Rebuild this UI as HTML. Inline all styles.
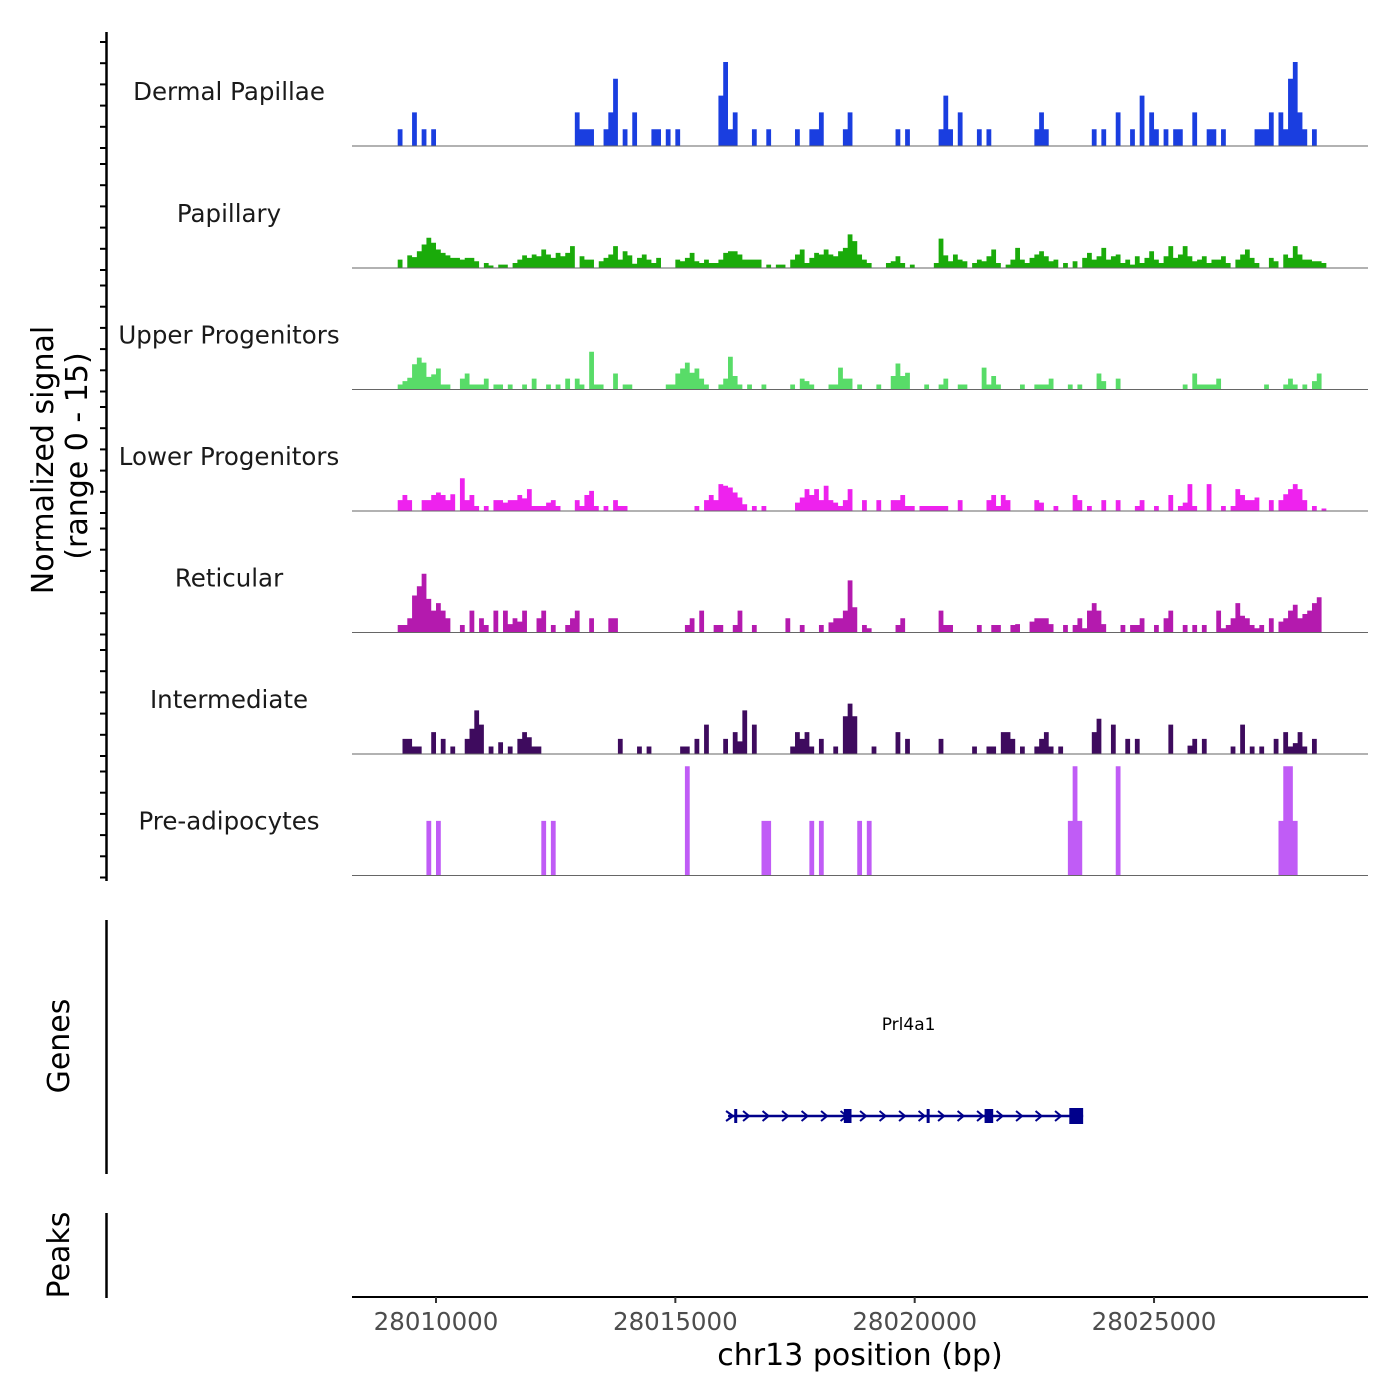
<!DOCTYPE html>
<html><head><meta charset="utf-8"><style>
html,body{margin:0;padding:0;background:#fff;}
svg{display:block;font-family:"DejaVu Sans","Liberation Sans",sans-serif;}
</style></head><body>
<svg id="chart" width="1400" height="1400" viewBox="0 0 1400 1400">
<g id="tracks"></g>
<g id="leftaxis"></g>
<text x="0" y="0" transform="translate(53,460) rotate(-90)" text-anchor="middle" font-size="30" fill="#000">Normalized signal</text>
<text x="0" y="0" transform="translate(87,456) rotate(-90)" text-anchor="middle" font-size="30" fill="#000">(range 0 - 15)</text>
<line x1="106.5" y1="920" x2="106.5" y2="1174" stroke="#000" stroke-width="2.5"/>
<text transform="translate(69,1046) rotate(-90)" text-anchor="middle" font-size="30">Genes</text>
<line x1="106.5" y1="1213" x2="106.5" y2="1298" stroke="#000" stroke-width="2.5"/>
<text transform="translate(69,1255) rotate(-90)" text-anchor="middle" font-size="30">Peaks</text>
<g id="genes"></g>
<g id="xaxis"></g>
<text x="860" y="1365" text-anchor="middle" font-size="30" fill="#000">chr13 position (bp)</text>
</svg>
<script>
const domain = [28008245, 28029470];
const binStart = 28009200;
const binSize = 100;
const nBins = 200;
const trackNames = ["Dermal Papillae","Papillary","Upper Progenitors","Lower Progenitors","Reticular","Intermediate","Pre-adipocytes"];
const trackColors = ["#1a3ee0","#1aab0a","#58dc68","#ee22ee","#b41aae","#3e0b5e","#c05cf6"];
const xTicks = [28010000, 28015000, 28020000, 28025000];
const xTickLabels = ["28010000","28015000","28020000","28025000"];

const dpBin = [0,3,5,7,37,38,39,40,43,44,45,47,49,53,54,56,58,67,68,69,70,74,77,83,86,87,88,93,94,104,106,113,114,115,117,121,123,133,134,135,145,147,150,153,155,157,158,160,162,163,166,169,170,172,179,180,181,182,184,185,186,187,188,189,191];
const dpVal = [2,4,2,2, 4,2,2,2, 2,4,8,2,4, 2,2,2,2, 6,10,2,4, 2,2, 2,2,2,4, 2,4, 2,2, 2,6,2,4, 2,2, 2,4,2, 2,2,4,2,6,4,2, 2,2,2,4, 2,2,2, 2,2,2,4, 4,2,8,10,4,2, 2];

const papVal = [1,0,1.5,1.3,2,2.8,3.6,3,2.2,1.8,
1.5,1.2,1.2,1,1.2,1.2,0.8,0,0.6,0.3,
0,0.4,0.4,0,0.6,1,1.5,1.2,1.6,1.4,
2.2,1.6,1.2,1.8,1.4,1.8,2.6,0,1.4,1,
1,0,0.8,1.2,1.6,2.6,1,2,1.5,0.5,
1.2,1.6,1,0.6,1.2,0,0,0,1,0.8,
1.2,1.8,0.8,0.6,1,0.6,0.6,1,1.8,2,
2,1.6,1,1,1,1,0,0.4,0,0.4,
0.4,0,1,1.6,2.2,0.6,1.2,1.8,1.6,2.2,
1.6,1.4,2,2.4,4,3.2,1.6,1,0.6,0,
0,0,0.6,0.8,1.4,0.6,0,0.4,0,0,
0,0,0.6,3.5,1.5,0.8,1.6,1,0.8,0,
0.6,1,0.8,1.4,2.2,0.6,0,0.4,1,2.4,
1,0.6,1.2,1.6,2,1.4,0.8,1,0,0.6,
0,0.8,0,1.2,1.8,1,1.4,2.4,1,1.4,
1.6,0.6,1,0.4,1.4,0.6,1.2,2,1,0.6,
1.4,2.6,1.2,1.6,2.6,1.4,0.8,1,1.4,0.6,
1,1,1.4,0.6,0,1,1.6,2.2,1.2,0.6,
0,0,1.2,0.8,0,1.6,1.2,2.6,1.6,1,
1,0.8,0.8,0.6,0,0,0,0,0,0];

const upBin = [0,1,2,3,4,5,6,7,8,9,10,13,14,15,16,17,18,20,21,23,26,28,31,33,35,37,38,40,41,42,45,47,48,56,57,58,59,60,61,62,63,64,67,68,69,70,71,73,76,82,84,85,86,90,91,92,93,94,96,100,103,104,105,106,110,113,114,117,118,122,123,124,125,130,133,134,135,136,140,142,146,147,150,164,166,167,168,169,170,171,181,185,186,187,189,191,192];
const upVal = [0.6,1.0,1.4,3.0,3.8,3.2,1.5,1.8,2.5,0.6,0.6,1.3,1.9,0.6,0.6,0.6,1.3,0.6,0.6,0.6,0.6,1.3,0.6,0.6,1.3,1.3,0.6,4.5,0.6,0.6,1.9,0.6,0.6,0.6,0.6,1.9,2.5,3.2,2.0,2.5,1.3,0.6,0.6,1.3,3.9,1.6,0.6,0.6,0.6,0.6,1.3,1.0,0.6,0.6,0.6,2.6,1.3,1.3,0.6,0.6,1.6,3.1,1.6,2.0,0.6,0.6,1.3,0.6,0.6,2.6,0.6,1.6,0.6,0.6,0.6,0.6,0.6,1.3,0.6,0.6,1.9,1.0,1.3,0.6,1.9,0.6,0.6,0.6,0.6,1.3,0.6,0.6,1.3,0.6,0.6,1.0,1.9];

const loBin = [0,1,2,5,6,7,8,9,10,11,13,14,15,16,18,20,21,22,23,24,25,26,27,28,29,30,31,32,33,37,38,39,40,41,43,45,46,47,62,64,65,66,67,68,69,70,71,72,74,76,83,84,85,86,87,88,89,90,91,92,93,94,97,100,103,104,105,106,107,109,110,111,112,113,114,117,123,124,125,126,127,133,134,137,141,142,144,147,150,154,155,158,161,163,164,165,166,169,172,174,175,176,177,178,179,182,184,185,186,187,188,189,191,193];
const loVal = [1.3,1.9,1.3,1.3,1.3,1.9,2.2,1.9,1.3,2.0,3.9,1.3,1.9,0.6,0.6,1.3,1.3,1.0,1.3,1.3,1.9,1.5,2.6,0.6,0.6,0.6,1.0,1.3,0.6,1.3,0.6,1.9,2.4,0.6,0.6,1.3,0.6,0.6,0.6,1.3,1.9,1.3,3.2,3.0,2.8,2.2,1.6,0.8,0.6,0.6,1.0,1.6,2.6,1.9,2.6,1.3,3.0,1.3,1.0,0.6,1.3,2.6,1.3,1.3,1.3,1.3,1.9,0.6,0.6,0.6,0.6,0.6,0.6,0.6,0.6,1.3,1.3,1.9,0.6,1.9,1.3,1.3,1.0,0.6,1.9,1.3,0.6,1.3,1.3,0.6,1.3,0.6,1.9,0.6,1.0,3.2,0.6,3.2,0.6,0.6,2.6,1.9,1.3,1.3,1.6,1.3,1.3,2.0,2.6,3.2,2.6,1.3,0.6,0.3];

const retBin = [0,1,2,3,4,5,6,7,8,9,10,13,15,17,18,20,22,23,24,25,26,29,30,32,35,36,37,40,44,45,60,61,63,66,67,70,71,74,81,84,88,90,91,92,93,94,95,97,98,104,105,113,114,115,121,124,125,128,129,132,133,134,135,136,139,141,142,143,144,145,146,147,151,153,154,155,158,160,161,164,166,168,171,172,173,174,175,176,177,178,179,180,182,184,185,186,187,188,189,190,191,192];
const retVal = [0.9,0.9,1.7,4.4,5.5,7.0,4.0,2.6,3.5,2.6,1.7,0.9,2.6,1.7,0.9,2.6,2.6,1.0,1.7,1.3,2.6,1.7,2.6,0.9,0.9,1.7,2.6,1.7,1.7,1.7,0.9,1.7,2.6,0.9,0.9,0.9,2.6,0.9,1.7,0.9,0.9,1.2,1.7,1.7,2.6,6.2,3.0,0.9,0.5,0.9,1.7,2.6,0.9,0.9,0.9,0.9,0.9,0.9,1.0,1.3,1.7,1.7,1.7,1.0,0.9,0.9,1.7,0.5,2.6,3.5,2.6,1.0,0.9,0.9,0.9,1.7,0.9,1.7,2.6,0.9,0.9,0.9,2.6,0.5,0.9,1.7,3.5,2.0,1.7,0.9,0.5,0.9,1.7,1.3,1.7,2.6,3.3,1.7,2.2,2.6,3.5,4.2];

const intBin = [1,2,3,4,7,9,11,14,15,16,17,19,21,23,25,26,27,28,29,46,50,52,59,60,62,64,68,70,71,72,74,82,83,84,85,86,88,91,93,94,95,99,104,106,113,120,123,124,126,127,128,130,133,134,135,136,138,145,146,149,152,154,161,165,166,168,174,176,178,180,183,185,186,187,188,189,191];
const intVal = [1.8,1.8,0.9,0.9,2.6,1.8,0.9,1.8,3.0,5.2,3.5,0.9,1.4,0.9,1.8,2.6,2.0,0.9,0.9,1.8,0.9,0.9,0.9,0.9,1.8,3.5,1.8,2.6,1.5,5.2,3.5,0.9,2.6,1.8,2.6,0.9,1.8,0.9,4.5,6.0,4.5,0.9,2.6,1.8,1.8,0.9,0.9,0.9,2.6,2.6,1.8,0.9,0.9,1.8,2.6,0.9,0.9,2.6,4.2,3.5,1.8,1.8,3.5,1.0,1.8,1.8,0.9,3.5,0.9,0.9,1.8,2.6,0.9,1.3,2.6,0.9,1.8];

const preBin = [6,8,30,32,60,76,77,86,88,96,98,140,141,142,150,184,185,186,187];
const preVal = [6.5,6.5,6.5,6.5,13,6.5,6.5,6.5,6.5,6.5,6.5,6.5,13,6.5,13,6.5,13,13,6.5];

const geneName = "Prl4a1";
const geneStart = 28016101;
const geneEnd = 28023519;
const exonStart = [28016230, 28018520, 28020250, 28021460, 28023230];
const exonEnd   = [28016290, 28018680, 28020300, 28021640, 28023519];

const NS = "http://www.w3.org/2000/svg";
const X0 = 352, X1 = 1368;
function x(bp){ return X0 + (bp - domain[0]) / (domain[1] - domain[0]) * (X1 - X0); }
const pxPerUnit = 8.4;
function yv(base, v){ return base - v * pxPerUnit; }
const baselines = [146, 268, 389.5, 511, 632.5, 754, 875.5];
function mk(tag, attrs, parent){ const e = document.createElementNS(NS, tag); for (const k in attrs) e.setAttribute(k, attrs[k]); parent.appendChild(e); return e; }
function dense(bins, vals){ const a = new Array(nBins).fill(0); bins.forEach((b,i)=>{ a[b] = vals[i]; }); return a; }

const series = [dense(dpBin,dpVal), papVal, dense(upBin,upVal), dense(loBin,loVal), dense(retBin,retVal), dense(intBin,intVal), dense(preBin,preVal)];
const tg = document.getElementById("tracks");
series.forEach((vals, t) => {
  const b = baselines[t];
  const g = mk("g", {}, tg);
  
  
  let d = "M" + x(binStart).toFixed(2) + "," + b;
  for (let i = 0; i < nBins; i++) {
    const xa = x(binStart + i*binSize), xb = x(binStart + (i+1)*binSize);
    const yy = yv(b, vals[i] || 0);
    d += " L" + xa.toFixed(2) + "," + yy.toFixed(2) + " L" + xb.toFixed(2) + "," + yy.toFixed(2);
  }
  d += " L" + x(binStart + nBins*binSize).toFixed(2) + "," + b + " Z";
  const p = mk("path", {d: d, fill: trackColors[t], stroke: "none"}, g);
  
  
  const bl = mk("line", {x1: X0, x2: X1, y1: b, y2: b, stroke: "#666", "stroke-width": 1}, g);
  
  
  const lbl = mk("text", {x: 229, y: b - 46, "text-anchor": "middle", "font-size": 24.5, fill: "#1a1a1a"}, g);
  lbl.textContent = trackNames[t];
  
  
});

const la = document.getElementById("leftaxis");
const al = mk("line", {x1: 106.5, x2: 106.5, y1: 32, y2: 881, stroke: "#000", "stroke-width": 2.5}, la);


baselines.forEach((b) => {
  for (let k = 0; k < 6; k++) {
    const yy = b + 2 - k * 21.2;
    if (yy < 30) continue;
    const tk = mk("line", {x1: 100, x2: 106, y1: yy, y2: yy, stroke: "#000", "stroke-width": 2}, la);
    
    
  }
});

const xa = document.getElementById("xaxis");
const xl = mk("line", {x1: X0, x2: X1, y1: 1297, y2: 1297, stroke: "#000", "stroke-width": 2}, xa);


xTicks.forEach((v, i) => {
  const tk = mk("line", {x1: x(v), x2: x(v), y1: 1297, y2: 1303, stroke: "#333", "stroke-width": 2}, xa);
  
  
  const tl = mk("text", {x: x(v), y: 1330, "text-anchor": "middle", "font-size": 24.5, fill: "#4d4d4d"}, xa);
  tl.textContent = xTickLabels[i];
  
  
});

const gg = document.getElementById("genes");
const gy = 1116;
const gl = mk("text", {x: (x(geneStart)+x(geneEnd))/2 + 3, y: 1030, "text-anchor": "middle", "font-size": 17, fill: "#000"}, gg);
gl.textContent = geneName;


const gline = mk("line", {x1: x(geneStart), x2: x(geneEnd), y1: gy, y2: gy, stroke: "#00008b", "stroke-width": 2.5}, gg);


for (let px = x(geneStart) + 18; px < x(geneEnd) - 8; px += 19.5) {
  const ar = mk("path", {d: "M" + (px-3) + "," + (gy-5) + " L" + (px+3) + "," + gy + " L" + (px-3) + "," + (gy+5), fill: "none", stroke: "#00008b", "stroke-width": 2}, gg);
  
  
}
const xm = mk("path", {d: "M" + (x(geneStart)-2) + "," + (gy-5) + " L" + (x(geneStart)+5) + "," + gy + " L" + (x(geneStart)-2) + "," + (gy+5), fill: "none", stroke: "#00008b", "stroke-width": 2}, gg);


exonStart.forEach((s, i) => {
  const w = Math.max(3, x(exonEnd[i]) - x(s));
  const h = (i === exonStart.length - 1) ? 16 : 14;
  const r = mk("rect", {x: x(s), y: gy - h/2, width: w, height: h, fill: "#00008b"}, gg);
  
  
});
</script>
</body></html>
